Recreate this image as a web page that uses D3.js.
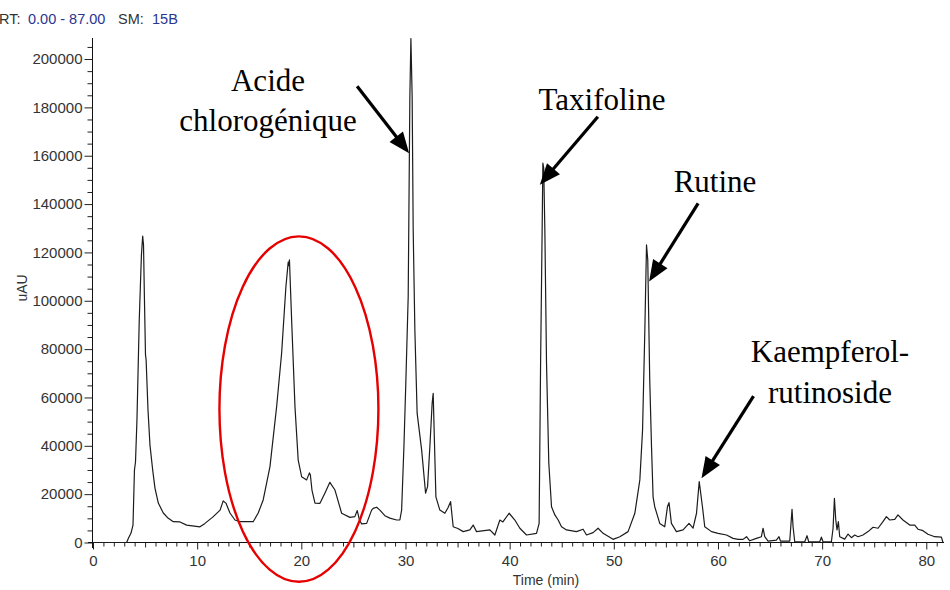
<!DOCTYPE html>
<html><head><meta charset="utf-8">
<script src="https://cdn.jsdelivr.net/npm/d3@7"></script>
<style>body{margin:0;background:#fff} svg{display:block}</style>
</head><body>
<svg id="c" width="950" height="590"></svg>
<script>
// ---- data (retention time in min, absorbance in uAU) ----
const times = [0,3.23,3.41,3.65,3.84,3.98,4.08,4.22,4.44,4.65,
4.77,4.85,4.94,5.04,5.1,5.28,5.47,5.73,5.95,6.27,
6.75,7.2,7.71,8.35,8.99,10.27,10.75,11.55,12.2,12.5,
12.76,13.15,13.63,14.1,15.38,15.86,16.34,16.99,17.63,18.11,
18.52,18.74,18.8,18.86,19.07,19.39,19.7,20.03,20.51,20.78,
20.87,21.02,21.31,21.79,22.26,22.74,23.23,23.87,24.66,25.14,
25.37,25.58,25.79,26.27,26.75,26.9,27.23,27.54,28.02,28.5,
29.15,29.46,29.63,29.85,30.04,30.26,30.42,30.52,30.64,30.74,
30.9,31.12,31.55,31.93,32.12,32.34,32.56,32.66,32.75,32.92,
33.3,33.78,34.07,34.33,34.58,35.03,35.54,36.18,36.5,36.82,
38.1,38.58,39.06,39.35,39.95,40.5,40.98,41.62,42.58,42.83,
42.97,43.12,43.19,43.27,43.38,43.54,43.76,44.02,44.34,44.66,
44.98,45.46,46.42,47.05,47.38,48.01,48.49,48.97,49.93,50.58,
51.37,52.02,52.5,52.76,52.98,53.14,53.26,53.45,53.62,53.77,
53.93,54.41,54.89,55.15,55.3,55.53,56.01,56.65,57.22,57.61,
57.94,58.2,58.51,58.73,59.38,60.01,60.82,61.45,61.93,62.41,
62.74,63.05,63.69,64.17,64.33,64.49,64.81,65.61,65.86,66.0,
66.89,66.99,67.11,67.21,67.37,68.33,68.55,68.71,69.77,69.93,
70.09,70.89,71.05,71.18,71.31,71.43,71.56,71.69,72.17,72.49,
72.81,73.13,73.45,73.92,74.41,74.89,75.37,75.84,76.17,76.49,
76.97,77.28,77.76,78.41,78.89,79.2,79.68,80.16,80.81,81.45,
81.6];
const intensities = [0,0,1900,3900,7200,30000,33300,50700,92000,119000,
126800,123000,100300,77600,75500,54800,40300,30000,22500,16300,
12200,10100,8600,8500,7200,6500,7900,10700,13400,17200,
16300,12200,9300,8600,8600,12200,17600,31400,56200,78400,
105800,116000,114500,116900,92000,56200,34100,27200,25900,28800,
27900,21700,16300,16200,20400,24900,21700,12100,10400,10700,
13200,9300,7700,7900,13400,14100,14600,13400,11100,10100,
9300,9300,13400,39600,67200,101700,184400,208500,184400,129300,
87900,53400,38300,20400,23100,39600,57600,61700,46500,18900,
13400,12100,14300,16900,6500,5800,4500,5200,7200,4500,
5200,3100,9300,8500,12100,9300,5900,3100,3800,7900,
74100,129300,157000,155000,129300,74100,32800,14800,11400,9300,
6500,5200,4500,5500,3100,4100,5900,3800,1300,2400,
4500,12100,25900,46500,87900,123100,116900,67200,39600,18900,
14800,7900,6500,14800,16500,7900,4500,5200,7900,5900,
12100,25200,14800,6500,4500,3800,3100,1700,1300,1300,
2400,700,1700,2400,5900,2400,600,1000,2400,600,
600,6500,13700,6500,300,300,2800,300,300,2200,
300,300,5900,18300,9300,5200,8600,2400,1400,3500,
2000,3100,2400,3100,4500,6300,5900,8600,10700,9300,
9600,11400,9300,7200,7200,5500,4900,3400,2400,2200,
0];
const xTicks = [0,10,20,30,40,50,60,70,80];
const yTicks = [0,20000,40000,60000,80000,100000,120000,140000,160000,180000,200000];
const peakNames = [["Acide","chlorogénique"],["Taxifoline"],["Rutine"],["Kaempferol-","rutinoside"]];
const peakTimes = [30.35, 42.9, 53.39, 58.42];
const peakValues = [161000, 148000, 108000, 26600];
const circledTime = [19.77];
const circledValue = [55200];
const headerParts = ["RT:", "0.00 - 87.00", "SM:", "15B"];

// ---- layout ----
const svg = d3.select("#c");
const x = d3.scaleLinear().domain([0, 81.7]).range([93, 944]);
const y = d3.scaleLinear().domain([0, 208700]).range([542.5, 38]);
const sans = "Arial, 'Liberation Sans', sans-serif";
const serif = "'Times New Roman', 'Liberation Serif', serif";

// header
const hdr = svg.append("text").attr("y", 24).attr("font-family", sans).attr("font-size", 14.5);
const hx = [-1, 28, 118, 152];
const hc = ["#333", "#2b3590", "#333", "#2b3590"];
headerParts.forEach((p, i) => hdr.append("tspan").attr("x", hx[i]).attr("fill", hc[i]).text(p));

// minor y ticks
const yMinor = d3.range(0, 208700, 5000).filter(v => v % 20000 !== 0);
svg.append("g").attr("transform", "translate(92.5,0)")
  .call(d3.axisLeft(y).tickValues(yMinor).tickSize(5).tickFormat(""))
  .call(g => g.select(".domain").remove())
  .selectAll("line").attr("stroke", "#222");
// major y axis
const gy = svg.append("g").attr("transform", "translate(92.5,0)")
  .call(d3.axisLeft(y).tickValues(yTicks).tickSize(8).tickPadding(2).tickSizeOuter(0).tickFormat(d3.format("d")));
gy.select(".domain").attr("stroke", "#111").attr("d", "M0,38V548");
gy.selectAll("line").attr("stroke", "#222");
gy.selectAll("text").attr("font-family", sans).attr("font-size", 15).attr("fill", "#333");

// minor x ticks
const xMinor = d3.range(0, 82, 1).filter(v => v % 10 !== 0);
svg.append("g").attr("transform", "translate(0,542.5)")
  .call(d3.axisBottom(x).tickValues(xMinor).tickSizeInner(4).tickSizeOuter(0).tickFormat(""))
  .call(g => g.select(".domain").remove())
  .selectAll("line").attr("stroke", "#222").attr("y2", d => d % 5 === 0 ? 5 : 4);
const gx = svg.append("g").attr("transform", "translate(0,542.5)")
  .call(d3.axisBottom(x).tickValues(xTicks).tickSize(7).tickPadding(6).tickSizeOuter(0));
gx.select(".domain").attr("stroke", "#111").attr("d", "M88,0H944");
gx.selectAll("line").attr("stroke", "#222");
gx.selectAll("text").attr("font-family", sans).attr("font-size", 15).attr("fill", "#333");

// axis titles
svg.append("text").attr("transform", "translate(27,288) rotate(-90)").attr("text-anchor", "middle")
  .attr("font-family", sans).attr("font-size", 14).attr("fill", "#333").text("uAU");
svg.append("text").attr("x", 546).attr("y", 585).attr("text-anchor", "middle")
  .attr("font-family", sans).attr("font-size", 14).attr("fill", "#333").text("Time (min)");

// trace
svg.append("clipPath").attr("id", "clip").append("rect").attr("x", 93).attr("y", 36).attr("width", 860).attr("height", 510);
const pts = times.map((t, i) => [t, intensities[i]]);
svg.append("path").datum(pts).attr("clip-path", "url(#clip)")
  .attr("fill", "none").attr("stroke", "#1c1c1c").attr("stroke-width", 1.2).attr("stroke-linejoin", "round")
  .attr("d", d3.line().x(d => x(d[0])).y(d => y(d[1])));

// red ellipse
svg.selectAll("ellipse.c").data(circledTime).join("ellipse")
  .attr("cx", (d, i) => x(d)).attr("cy", (d, i) => y(circledValue[i]))
  .attr("rx", 79.5).attr("ry", 172.7)
  .attr("fill", "none").attr("stroke", "#e60000").attr("stroke-width", 2.4);

// annotations
const tails = [[-52, -67], [58, -68], [49, -78], [52, -82]];
const textPos = [[268, 91, 40], [602, 110, 0], [715, 192, 0], [830, 362, 41]];
peakNames.forEach((lines, i) => {
  const tx = x(peakTimes[i]), ty = y(peakValues[i]);
  const sx = tx + tails[i][0], sy = ty + tails[i][1];
  const dx = tx - sx, dy = ty - sy, L = Math.hypot(dx, dy);
  const ux = dx / L, uy = dy / L;
  const hl = 21, hw = 8.5;
  const bx = tx - ux * hl, by = ty - uy * hl;
  svg.append("line").attr("x1", sx).attr("y1", sy).attr("x2", bx + ux * 2).attr("y2", by + uy * 2)
    .attr("stroke", "#000").attr("stroke-width", 3.2);
  svg.append("path").attr("fill", "#000")
    .attr("d", `M${tx},${ty}L${bx - uy * hw},${by + ux * hw}L${bx + uy * hw},${by - ux * hw}Z`);
  const t = svg.append("text").attr("text-anchor", "middle").attr("font-family", serif)
    .attr("font-size", 31).attr("fill", "#000");
  lines.forEach((ln, j) => t.append("tspan").attr("x", textPos[i][0]).attr("y", textPos[i][1] + j * textPos[i][2]).text(ln));
});
</script>
</body></html>
